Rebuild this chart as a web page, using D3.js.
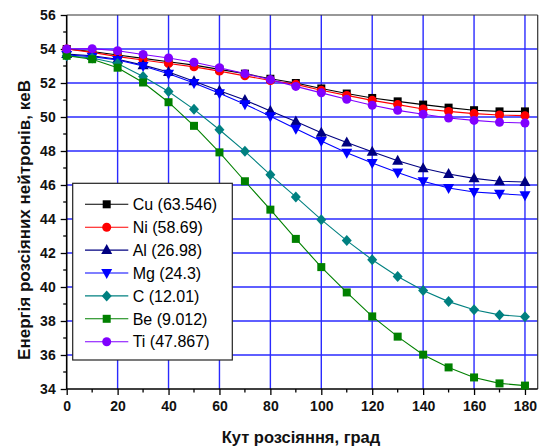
<!DOCTYPE html>
<html><head><meta charset="utf-8">
<script src="https://cdn.jsdelivr.net/npm/d3@7"></script>
<style>body{margin:0;background:#fff}svg{display:block}</style>
</head><body>
<script>
const angles = [0,10,20,30,40,50,60,70,80,90,100,110,120,130,140,150,160,170,180];
const seriesNames = ["Cu (63.546)","Ni (58.69)","Al (26.98)","Mg (24.3)","C (12.01)","Be (9.012)","Ti (47.867)"];
const cu = [54.0,53.85,53.65,53.45,53.25,53.05,52.8,52.55,52.25,52.0,51.68,51.38,51.12,50.92,50.73,50.55,50.4,50.33,50.33];
const ni = [54.0,53.8,53.55,53.35,53.15,52.95,52.7,52.42,52.15,51.92,51.57,51.27,50.98,50.73,50.47,50.33,50.2,50.12,50.08];
const al = [53.7,53.6,53.4,53.05,52.65,52.1,51.55,51.0,50.35,49.73,49.08,48.5,47.96,47.43,46.98,46.65,46.39,46.22,46.18];
const mg = [53.65,53.55,53.35,53.0,52.55,52.0,51.4,50.75,50.05,49.31,48.59,47.9,47.3,46.73,46.22,45.82,45.59,45.49,45.4];
const cc = [53.6,53.47,53.15,52.38,51.5,50.45,49.25,47.98,46.6,45.3,43.96,42.73,41.6,40.62,39.8,39.14,38.66,38.36,38.25];
const be = [53.6,53.4,52.9,52.03,50.87,49.48,47.92,46.22,44.55,42.83,41.17,39.68,38.27,37.08,36.02,35.27,34.68,34.33,34.2];
const ti = [54.0,54.02,53.9,53.68,53.47,53.22,52.9,52.55,52.2,51.8,51.42,51.04,50.69,50.39,50.16,49.94,49.8,49.69,49.65];
const seriesValues = [cu,ni,al,mg,cc,be,ti];
const colors = ["#000000","#ff0000","#000080","#0000ff","#008080","#008000","#8000ff"];
const symbols = ["square","circle","triUp","triDown","diamond","square","circle"];
const xTicks = [0,20,40,60,80,100,120,140,160,180];
const yTicks = [34,36,38,40,42,44,46,48,50,52,54,56];
const xTitle = "Кут розсіяння, град";
const yTitle = "Енергія розсіяних нейтронів, кеВ";

const W = 539, H = 448;
const L = 66.7, R = 537.7, T = 15, B = 389;
const svg = d3.select("body").append("svg").attr("width", W).attr("height", H);
const x = d3.scaleLinear().domain([0,185]).range([L,R]);
const y = d3.scaleLinear().domain([34,56]).range([B,T]);

// grid
const grid = svg.append("g").attr("stroke","#2a2aff").attr("stroke-width",1.4);
grid.selectAll("line.v").data(xTicks.filter(d=>d>0)).enter().append("line")
  .attr("x1",d=>x(d)).attr("x2",d=>x(d)).attr("y1",T).attr("y2",B);
grid.selectAll("line.h").data(yTicks.filter(d=>d>34 && d<56)).enter().append("line")
  .attr("x1",L).attr("x2",R).attr("y1",d=>y(d)).attr("y2",d=>y(d));

// frame top/right
svg.append("line").attr("x1",L).attr("x2",R).attr("y1",T).attr("y2",T).attr("stroke","#333").attr("stroke-width",1.2);
svg.append("line").attr("x1",R).attr("x2",R).attr("y1",T).attr("y2",B).attr("stroke","#333").attr("stroke-width",1.2);

// axes
const fontTick = "'Liberation Sans', Arial, sans-serif";
const xAxis = d3.axisBottom(x).tickValues(xTicks).tickSize(6).tickPadding(6).tickFormat(d3.format("d"));
const gx = svg.append("g").attr("transform",`translate(0,${B})`).call(xAxis);
gx.append("g").selectAll("line").data(d3.range(10,185,20)).enter().append("line")
  .attr("x1",d=>x(d)).attr("x2",d=>x(d)).attr("y1",0).attr("y2",3.5).attr("stroke","#000").attr("stroke-width",1.3);
const yAxis = d3.axisLeft(y).tickValues(yTicks).tickSize(6).tickPadding(5).tickFormat(d3.format("d"));
const gy = svg.append("g").attr("transform",`translate(${L},0)`).call(yAxis);
gy.append("g").selectAll("line").data(d3.range(35,56,2)).enter().append("line")
  .attr("x1",0).attr("x2",-3.5).attr("y1",d=>y(d)).attr("y2",d=>y(d)).attr("stroke","#000").attr("stroke-width",1.3);
[gx,gy].forEach(g=>{
  g.select(".domain").attr("stroke","#000").attr("stroke-width",1.6);
  g.selectAll(".tick line").attr("stroke","#000").attr("stroke-width",1.3);
  g.selectAll(".tick text").attr("font-family",fontTick).attr("font-size",14).attr("font-weight","bold").attr("fill","#111");
});
gy.select(".domain").attr("d",`M0,${B}V${T}`);
gx.select(".domain").attr("d",`M${L},0H${R}`);

// symbol drawer
function drawSym(g, type, cx, cy, color){
  if(type==="square"){
    g.append("rect").attr("x",cx-4).attr("y",cy-4).attr("width",8).attr("height",8).attr("fill",color);
  } else if(type==="circle"){
    g.append("circle").attr("cx",cx).attr("cy",cy).attr("r",4.5).attr("fill",color);
  } else if(type==="triUp"){
    g.append("path").attr("d",`M${cx},${cy-6}L${cx+5.5},${cy+4}L${cx-5.5},${cy+4}Z`).attr("fill",color);
  } else if(type==="triDown"){
    g.append("path").attr("d",`M${cx},${cy+6}L${cx+5.5},${cy-4}L${cx-5.5},${cy-4}Z`).attr("fill",color);
  } else if(type==="diamond"){
    g.append("path").attr("d",`M${cx},${cy-5.5}L${cx+5},${cy}L${cx},${cy+5.5}L${cx-5},${cy}Z`).attr("fill",color);
  }
}

// series
const line = d3.line().x((d,i)=>x(angles[i])).y(d=>y(d));
seriesValues.forEach((vals,si)=>{
  const g = svg.append("g");
  g.append("path").datum(vals).attr("d",line).attr("fill","none").attr("stroke",colors[si]).attr("stroke-width",1.1);
  vals.forEach((v,i)=>drawSym(g,symbols[si],x(angles[i]),y(v),colors[si]));
});

// legend
const lg = svg.append("g");
lg.append("rect").attr("x",72.7).attr("y",183.3).attr("width",159.6).attr("height",176.7)
  .attr("fill","#fff").attr("stroke","#222").attr("stroke-width",1.2);
seriesNames.forEach((name,si)=>{
  const cy = 204.3 + si*22.9;
  lg.append("line").attr("x1",85).attr("x2",128.3).attr("y1",cy).attr("y2",cy).attr("stroke",colors[si]).attr("stroke-width",1.1);
  drawSym(lg,symbols[si],106.7,cy,colors[si]);
  lg.append("text").attr("x",132.7).attr("y",cy+5.7).text(name)
    .attr("font-family",fontTick).attr("font-size",16).attr("fill","#000");
});

// titles
svg.append("text").attr("x",301).attr("y",443).attr("text-anchor","middle")
  .attr("font-family",fontTick).attr("font-size",16.5).attr("font-weight","bold").attr("fill","#111").text(xTitle);
svg.append("text").attr("transform","translate(30,220) rotate(-90)").attr("text-anchor","middle")
  .attr("font-family",fontTick).attr("font-size",17).attr("font-weight","bold").attr("fill","#111").text(yTitle);
</script>
</body></html>
